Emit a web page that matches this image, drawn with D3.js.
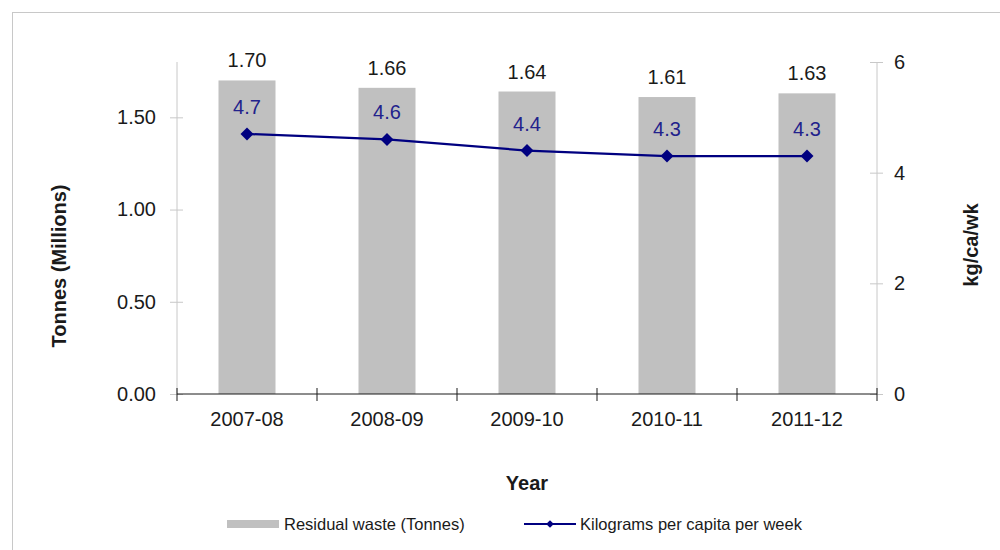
<!DOCTYPE html>
<html><head><meta charset="utf-8">
<script src="https://cdn.jsdelivr.net/npm/d3@7"></script>
<style>
body{margin:0;background:#fff;}
svg{display:block;font-family:"Liberation Sans",Arial,sans-serif;}
</style></head>
<body><svg id="c" width="1000" height="550"></svg>
<script>
const categories = ["2007-08","2008-09","2009-10","2010-11","2011-12"];
const tonnes = [1.70,1.66,1.64,1.61,1.63];
const kgPerCapita = [4.7,4.6,4.4,4.3,4.3];
const leftTicks = [0,0.5,1.0,1.5];
const rightTicks = [0,2,4,6];

const svg = d3.select("#c");
svg.append("rect").attr("x",12.5).attr("y",12.5).attr("width",1100).attr("height",700)
  .attr("fill","none").attr("stroke","#c8c8c8").attr("stroke-width",1);

const L=177, R=877, T=62, B=394;
const x = d3.scaleBand().domain(categories).range([L,R]).paddingInner(0).paddingOuter(0);
const yL = d3.scaleLinear().domain([0,1.8]).range([B,T]);
const yR = d3.scaleLinear().domain([0,6]).range([B,T]);
const barW = 57;

// bars
svg.selectAll(".bar").data(tonnes).join("rect")
  .attr("x",(d,i)=>x(categories[i])+x.bandwidth()/2-barW/2)
  .attr("y",d=>yL(d)).attr("width",barW).attr("height",d=>B-yL(d))
  .attr("fill","#c0c0c0");

// left axis
const gL = svg.append("g").attr("transform",`translate(${L},0)`)
  .call(d3.axisLeft(yL).tickValues(leftTicks).tickFormat(d3.format(".2f")).tickSize(7).tickPadding(14));
gL.select(".domain").attr("d",`M0,${T}V${B}`).attr("stroke","#c8c8c8");
gL.selectAll(".tick line").attr("x1",6).attr("x2",-7).attr("stroke","#c8c8c8");
gL.selectAll(".tick text").attr("font-size",20).attr("fill","#1a1a1a").attr("font-family","Liberation Sans, Arial");

// right axis
const gR = svg.append("g").attr("transform",`translate(${R},0)`)
  .call(d3.axisRight(yR).tickValues(rightTicks).tickFormat(d3.format("d")).tickSize(7).tickPadding(10));
gR.select(".domain").attr("d",`M0,${T}V${B}`).attr("stroke","#c8c8c8");
gR.selectAll(".tick line").attr("x1",-7).attr("x2",6).attr("stroke","#c8c8c8");
gR.selectAll(".tick text").attr("font-size",20).attr("fill","#1a1a1a").attr("font-family","Liberation Sans, Arial");

// bottom axis
const gB = svg.append("g").attr("transform",`translate(0,${B})`)
  .call(d3.axisBottom(x).tickSize(0).tickPadding(18));
gB.select(".domain").attr("d",`M${L},0H${R}`).attr("stroke","#1a1a1a");
gB.selectAll(".tick text").attr("font-size",20).attr("fill","#1a1a1a").attr("font-family","Liberation Sans, Arial");
const bounds = categories.map(c=>x(c)).concat([R]);
gB.selectAll(".btick").data(bounds).join("line").attr("class","btick")
  .attr("x1",d=>d).attr("x2",d=>d).attr("y1",-6).attr("y2",7).attr("stroke","#1a1a1a");

// bar labels
svg.selectAll(".blabel").data(tonnes).join("text")
  .attr("x",(d,i)=>x(categories[i])+x.bandwidth()/2).attr("y",d=>yL(d)-13)
  .attr("text-anchor","middle").attr("font-size",20).attr("fill","#1a1a1a").text(d=>d.toFixed(2));

// line
const pts = kgPerCapita.map((d,i)=>[x(categories[i])+x.bandwidth()/2, yR(d)]);
svg.append("path").attr("d",d3.line()(pts)).attr("fill","none").attr("stroke","#000080").attr("stroke-width",2.2);
svg.selectAll(".mk").data(pts).join("path")
  .attr("d",d3.symbol(d3.symbolSquare,85)())
  .attr("transform",d=>`translate(${d[0]},${d[1]}) rotate(45)`).attr("fill","#000080");
svg.selectAll(".llabel").data(kgPerCapita).join("text")
  .attr("x",(d,i)=>pts[i][0]).attr("y",d=>yR(d)-20)
  .attr("text-anchor","middle").attr("font-size",20).attr("fill","#22228c").text(d=>d.toFixed(1));

// axis titles
svg.append("text").attr("transform","translate(66,266) rotate(-90)").attr("text-anchor","middle")
  .attr("font-size",20).attr("font-weight","bold").attr("fill","#1a1a1a").text("Tonnes (Millions)");
svg.append("text").attr("transform","translate(978,245) rotate(-90)").attr("text-anchor","middle")
  .attr("font-size",20).attr("font-weight","bold").attr("fill","#1a1a1a").text("kg/ca/wk");
svg.append("text").attr("x",527).attr("y",490).attr("text-anchor","middle")
  .attr("font-size",20).attr("font-weight","bold").attr("fill","#1a1a1a").text("Year");

// legend
const ly = 524;
svg.append("rect").attr("x",227).attr("y",ly-4).attr("width",52).attr("height",8).attr("fill","#c0c0c0");
svg.append("text").attr("x",284).attr("y",ly+6).attr("font-size",16.5).attr("fill","#1a1a1a").text("Residual waste (Tonnes)");
svg.append("line").attr("x1",524).attr("x2",576).attr("y1",ly).attr("y2",ly).attr("stroke","#000080").attr("stroke-width",2.2);
svg.append("path").attr("d",d3.symbol(d3.symbolSquare,30)()).attr("transform",`translate(550,${ly}) rotate(45)`).attr("fill","#000080");
svg.append("text").attr("x",580).attr("y",ly+6).attr("font-size",16.5).attr("fill","#1a1a1a").text("Kilograms per capita per week");
</script></body></html>
